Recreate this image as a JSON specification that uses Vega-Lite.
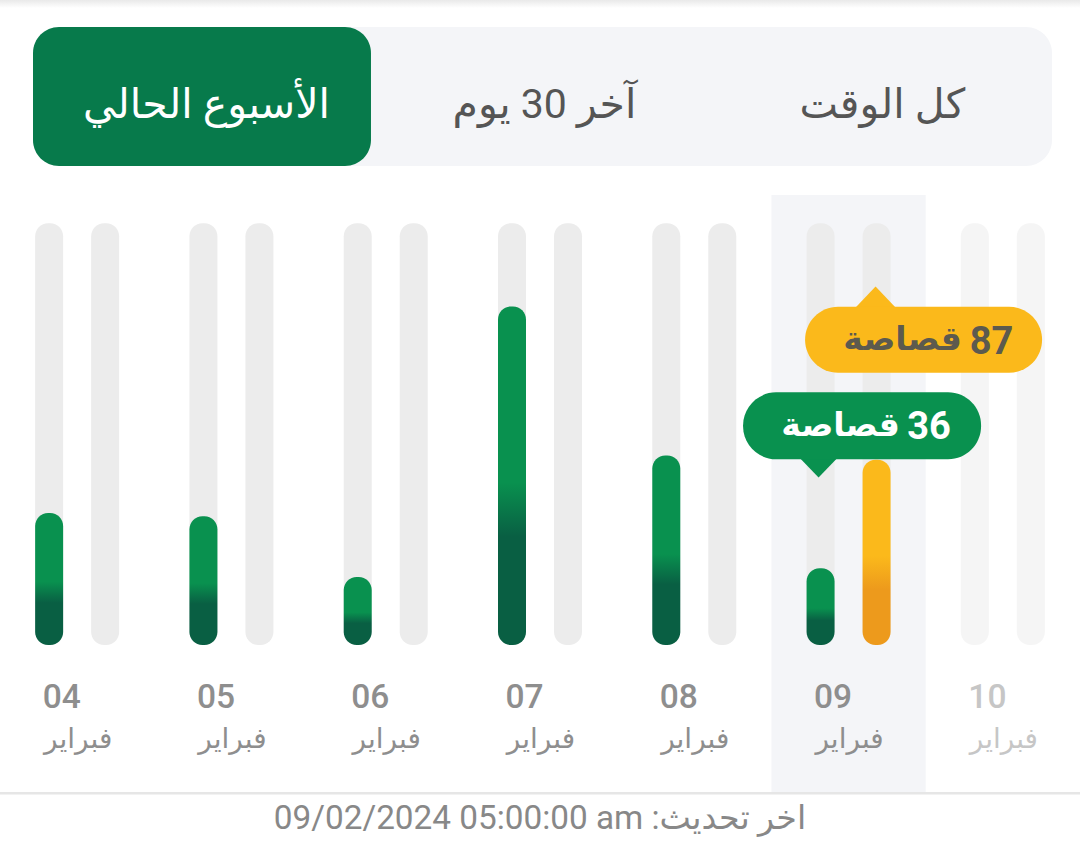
{
  "$schema": "https://vega.github.io/schema/vega-lite/v6.json",
  "padding": 0,
  "spacing": 0,
  "background": "#ffffff",
  "config": {
    "view": {"stroke": null},
    "axis": {"disable": true},
    "text": {"font": "Roboto, DejaVu Sans"}
  },
  "datasets": {
    "tabs": [
      {"tab": 1, "label": "الأسبوع الحالي", "selected": true},
      {"tab": 2, "label": "آخر 30 يوم", "selected": false},
      {"tab": 3, "label": "كل الوقت", "selected": false}
    ],
    "days": [
      {"day": "04", "month": "فبراير"},
      {"day": "05", "month": "فبراير"},
      {"day": "06", "month": "فبراير"},
      {"day": "07", "month": "فبراير"},
      {"day": "08", "month": "فبراير"},
      {"day": "09", "month": "فبراير"},
      {"day": "10", "month": "فبراير"}
    ],
    "clips": [
      {"day": "04", "series": "green", "stories": 62},
      {"day": "04", "series": "amber", "stories": 0},
      {"day": "05", "series": "green", "stories": 60.5},
      {"day": "05", "series": "amber", "stories": 0},
      {"day": "06", "series": "green", "stories": 32},
      {"day": "06", "series": "amber", "stories": 0},
      {"day": "07", "series": "green", "stories": 159},
      {"day": "07", "series": "amber", "stories": 0},
      {"day": "08", "series": "green", "stories": 89},
      {"day": "08", "series": "amber", "stories": 0},
      {"day": "09", "series": "green", "stories": 36},
      {"day": "09", "series": "amber", "stories": 87},
      {"day": "10", "series": "green", "stories": 0},
      {"day": "10", "series": "amber", "stories": 0}
    ]
  },
  "vconcat": [
    {
      "width": 1080,
      "height": 8,
      "data": {"values": [{}]},
      "mark": {
        "type": "rect",
        "color": {
          "gradient": "linear",
          "x1": 0, "y1": 0, "x2": 0, "y2": 1,
          "stops": [{"offset": 0, "color": "#e9e9e9"}, {"offset": 1, "color": "#ffffff"}]
        }
      },
      "encoding": {}
    },
    {
      "width": 1080,
      "height": 187,
      "data": {"name": "tabs"},
      "encoding": {
        "x": {"field": "tab", "type": "quantitative", "scale": {"domain": [0.5, 3.515], "range": [33, 1052], "nice": false, "zero": false}}
      },
      "layer": [
        {
          "transform": [{"filter": "datum.tab == 1"}],
          "mark": {"type": "rect", "color": "#f4f5f8", "cornerRadius": 26},
          "encoding": {
            "x": {"datum": 0.5, "type": "quantitative", "scale": {"domain": [0.5, 3.515], "range": [33, 1052], "nice": false, "zero": false}},
            "x2": {"datum": 3.515},
            "y": {"datum": 0, "type": "quantitative", "scale": {"domain": [0, 1], "range": [158, 19], "nice": false}},
            "y2": {"datum": 1}
          }
        },
        {
          "transform": [{"filter": "datum.selected"}],
          "mark": {"type": "rect", "color": "#077a4b", "cornerRadius": 26},
          "encoding": {
            "x": {"datum": 0.5, "type": "quantitative"},
            "x2": {"datum": 1.5},
            "y": {"datum": 0, "type": "quantitative"},
            "y2": {"datum": 1}
          }
        },
        {
          "mark": {"type": "text", "fontSize": 41, "baseline": "middle", "dx": 4.5, "dy": 9},
          "encoding": {
            "y": {"datum": 0.5, "type": "quantitative"},
            "text": {"field": "label"},
            "color": {"condition": {"test": "datum.selected", "value": "#ffffff"}, "value": "#555555"}
          }
        }
      ]
    },
    {
      "width": 1080,
      "height": 597,
      "encoding": {
        "x": {"field": "day", "type": "nominal", "scale": {"domain": ["04", "05", "06", "07", "08", "09", "10"], "paddingInner": 0, "paddingOuter": 0}}
      },
      "layer": [
        {
          "data": {"name": "days"},
          "transform": [{"filter": "datum.day == '09'"}],
          "mark": {"type": "rect", "color": "#f4f5f8"}
        },
        {
          "data": {"name": "clips"},
          "mark": {"type": "bar", "color": "#ececec", "cornerRadius": 13},
          "encoding": {
            "xOffset": {"field": "series", "type": "nominal", "scale": {"domain": ["green", "amber"], "paddingInner": 0.5, "paddingOuter": 0.6276}},
            "y": {"datum": 198, "type": "quantitative", "scale": {"domain": [-69, 211.3], "nice": false, "zero": false}},
            "y2": {"datum": 0},
            "opacity": {"condition": {"test": "datum.day == '10'", "value": 0.5}, "value": 1}
          }
        },
        {
          "data": {"name": "clips"},
          "transform": [{"filter": "datum.series == 'green' && datum.stories > 0"}],
          "mark": {
            "type": "bar",
            "cornerRadius": 13,
            "color": {
              "gradient": "linear",
              "x1": 0, "y1": 0, "x2": 0, "y2": 1,
              "stops": [
                {"offset": 0, "color": "#09914f"},
                {"offset": 0.52, "color": "#09914f"},
                {"offset": 0.68, "color": "#095f43"},
                {"offset": 1, "color": "#095f43"}
              ]
            }
          },
          "encoding": {
            "xOffset": {"field": "series", "type": "nominal"},
            "y": {"field": "stories", "type": "quantitative"},
            "y2": {"datum": 0}
          }
        },
        {
          "data": {"name": "clips"},
          "transform": [{"filter": "datum.series == 'amber' && datum.stories > 0"}],
          "mark": {
            "type": "bar",
            "cornerRadius": 13,
            "color": {
              "gradient": "linear",
              "x1": 0, "y1": 0, "x2": 0, "y2": 1,
              "stops": [
                {"offset": 0, "color": "#fbb91b"},
                {"offset": 0.52, "color": "#fbb91b"},
                {"offset": 0.7, "color": "#ed9a1c"},
                {"offset": 1, "color": "#ed9a1c"}
              ]
            }
          },
          "encoding": {
            "xOffset": {"field": "series", "type": "nominal"},
            "y": {"field": "stories", "type": "quantitative"},
            "y2": {"datum": 0}
          }
        },
        {
          "data": {"name": "clips"},
          "transform": [{"filter": "datum.series == 'amber' && datum.stories > 0"}],
          "mark": {"type": "point", "shape": "M0,-0.52L1,0.52L-1,0.52Z", "filled": true, "opacity": 1, "color": "#fbb91b", "size": 1521, "xOffset": 27, "yOffset": -163},
          "encoding": {"y": {"field": "stories", "type": "quantitative"}}
        },
        {
          "data": {"name": "clips"},
          "transform": [{"filter": "datum.series == 'amber' && datum.stories > 0"}],
          "mark": {"type": "rect", "color": "#fbb91b", "cornerRadius": 33, "width": 237, "height": 66, "xOffset": 75, "yOffset": -120},
          "encoding": {"y": {"field": "stories", "type": "quantitative"}}
        },
        {
          "data": {"name": "clips"},
          "transform": [{"filter": "datum.series == 'amber' && datum.stories > 0"}],
          "mark": {"type": "text", "font": "Roboto", "fontSize": 38, "fontWeight": 700, "color": "#5c5a4e", "baseline": "middle", "align": "center", "dx": 143, "dy": -117},
          "encoding": {"y": {"field": "stories", "type": "quantitative"}, "text": {"field": "stories"}}
        },
        {
          "data": {"name": "clips"},
          "transform": [{"filter": "datum.series == 'amber' && datum.stories > 0"}],
          "mark": {"type": "text", "font": "DejaVu Sans", "fontSize": 33, "fontWeight": 700, "color": "#5c5a4e", "baseline": "middle", "align": "center", "dx": 54, "dy": -120},
          "encoding": {"y": {"field": "stories", "type": "quantitative"}, "text": {"value": "قصاصة"}}
        },
        {
          "data": {"name": "clips"},
          "transform": [{"filter": "datum.series == 'green' && datum.day == '09'"}],
          "mark": {"type": "point", "shape": "M0,-0.52L1,0.52L-1,0.52Z", "filled": true, "opacity": 1, "color": "#09914f", "size": 1521, "angle": 180, "xOffset": -30, "yOffset": -101},
          "encoding": {"y": {"field": "stories", "type": "quantitative"}}
        },
        {
          "data": {"name": "clips"},
          "transform": [{"filter": "datum.series == 'green' && datum.day == '09'"}],
          "mark": {"type": "rect", "color": "#09914f", "cornerRadius": 33, "width": 238, "height": 67, "xOffset": 13.5, "yOffset": -142.5},
          "encoding": {"y": {"field": "stories", "type": "quantitative"}}
        },
        {
          "data": {"name": "clips"},
          "transform": [{"filter": "datum.series == 'green' && datum.day == '09'"}],
          "mark": {"type": "text", "font": "Roboto", "fontSize": 38, "fontWeight": 700, "color": "#ffffff", "baseline": "middle", "align": "center", "dx": 80.5, "dy": -140},
          "encoding": {"y": {"field": "stories", "type": "quantitative"}, "text": {"field": "stories"}}
        },
        {
          "data": {"name": "clips"},
          "transform": [{"filter": "datum.series == 'green' && datum.day == '09'"}],
          "mark": {"type": "text", "font": "DejaVu Sans", "fontSize": 33, "fontWeight": 700, "color": "#ffffff", "baseline": "middle", "align": "center", "dx": -8, "dy": -142},
          "encoding": {"y": {"field": "stories", "type": "quantitative"}, "text": {"value": "قصاصة"}}
        },
        {
          "data": {"name": "days"},
          "mark": {"type": "text", "font": "Roboto", "fontSize": 33.5, "fontWeight": 500, "color": "#8e8e8e", "baseline": "middle", "align": "left", "dx": -34.5, "dy": 53},
          "encoding": {
            "y": {"datum": 0, "type": "quantitative"},
            "text": {"field": "day"},
            "opacity": {"condition": {"test": "datum.day == '10'", "value": 0.5}, "value": 1}
          }
        },
        {
          "data": {"name": "days"},
          "mark": {"type": "text", "font": "DejaVu Sans", "fontSize": 28, "color": "#8e8e8e", "baseline": "middle", "align": "center", "dx": 1, "dy": 95},
          "encoding": {
            "y": {"datum": 0, "type": "quantitative"},
            "text": {"field": "month"},
            "opacity": {"condition": {"test": "datum.day == '10'", "value": 0.5}, "value": 1}
          }
        }
      ]
    },
    {
      "width": 1080,
      "height": 66,
      "data": {"values": [{"updated": "09/02/2024 05:00:00 am :اخر تحديث"}]},
      "layer": [
        {
          "mark": {"type": "rect", "color": "#e6e6e6"},
          "encoding": {
            "y": {"datum": 1, "type": "quantitative", "scale": {"domain": [0, 1], "nice": false}},
            "y2": {"datum": 0.962}
          }
        },
        {
          "mark": {"type": "text", "fontSize": 33.3, "color": "#888888", "baseline": "middle", "dy": -6},
          "encoding": {"text": {"field": "updated"}}
        }
      ]
    }
  ]
}
